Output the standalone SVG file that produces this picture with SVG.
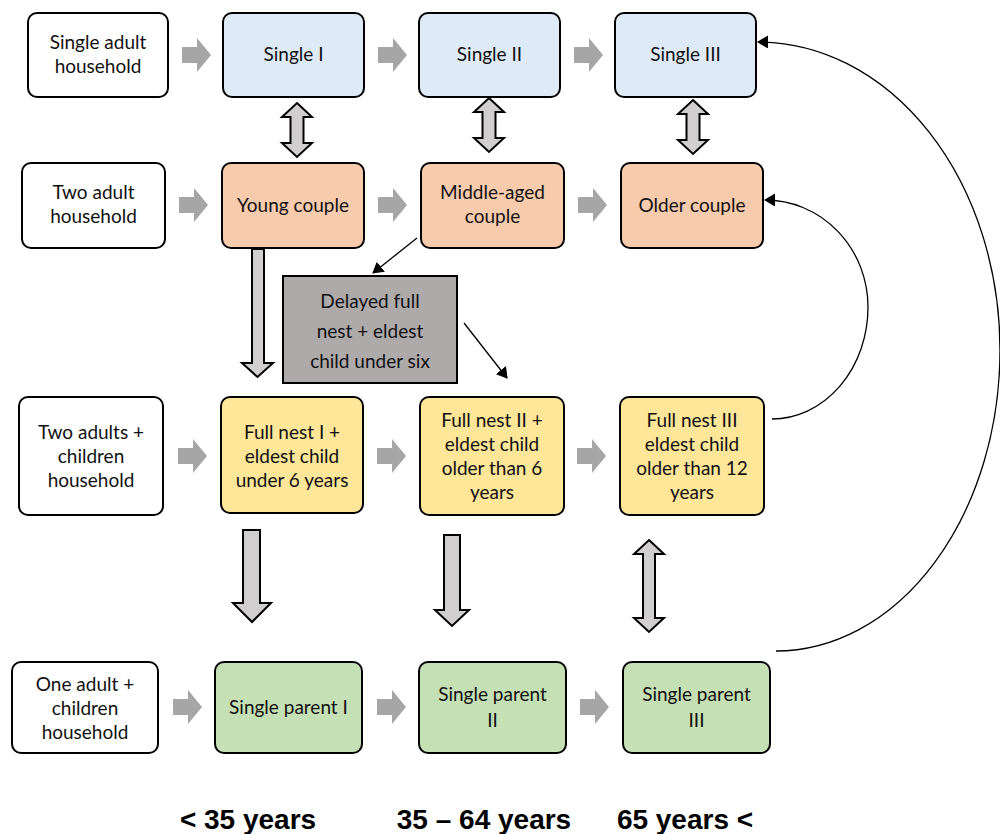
<svg xmlns="http://www.w3.org/2000/svg" xmlns:xlink="http://www.w3.org/1999/xlink" width="1000" height="834" viewBox="0 0 1000 834">
  <style>
    .box { stroke: #000; stroke-width: 2; }
    .plain { fill: #FFFFFF; }
    .single { fill: #DEEBF7; }
    .couple { fill: #F8CBAD; }
    .nest { fill: #FFE699; }
    .parent { fill: #C5E0B4; }
    .delayed { fill: #AEAAAA; }
    .lbl { font-family: Lato, "Open Sans", sans-serif; font-size: 19px; fill: #111; text-anchor: middle; }
    .age { font-family: "Liberation Sans", Arial, sans-serif; font-size: 28px; font-weight: bold; fill: #000; text-anchor: middle; }
    .step { fill: #A6A6A6; }
    .block { fill: #D0CECE; stroke: #000; stroke-width: 2; stroke-linejoin: miter; }
    .thin { fill: none; stroke: #000; stroke-width: 1.3; marker-end: url(#tip); }
  </style>
  <defs>
    <!-- grey chevron-style step arrow, tip at x=29 -->
    <path id="step" d="M0,-8 H15 V-17 L29,0 L15,17 V8 H0 Z"/>
    <marker id="tip" viewBox="0 0 11 13" refX="10" refY="6.5" markerWidth="11" markerHeight="13" markerUnits="userSpaceOnUse" orient="auto">
      <path d="M0,0 L11,6.5 L0,13 Z" fill="#000"/>
    </marker>
  </defs>

  <!-- row 1: single adult household -->
  <g id="n-single-adult"><rect class="box plain" x="28" y="13" width="140" height="84" rx="9"/>
    <text class="lbl" x="98" y="49">Single adult</text><text class="lbl" x="98" y="73">household</text></g>
  <g id="n-single-1"><rect class="box single" x="223" y="13" width="141" height="84" rx="9"/>
    <text class="lbl" x="293.5" y="61">Single I</text></g>
  <g id="n-single-2"><rect class="box single" x="419" y="13" width="141" height="84" rx="9"/>
    <text class="lbl" x="489.5" y="61">Single II</text></g>
  <g id="n-single-3"><rect class="box single" x="615" y="13" width="141" height="84" rx="9"/>
    <text class="lbl" x="685.5" y="61">Single III</text></g>

  <!-- row 2: two adult household -->
  <g id="n-two-adult"><rect class="box plain" x="22" y="163" width="143" height="85" rx="9"/>
    <text class="lbl" x="93.5" y="199">Two adult</text><text class="lbl" x="93.5" y="223">household</text></g>
  <g id="n-young-couple"><rect class="box couple" x="222" y="163" width="142" height="85" rx="9"/>
    <text class="lbl" x="293" y="212">Young couple</text></g>
  <g id="n-middle-couple"><rect class="box couple" x="421" y="163" width="143" height="85" rx="9"/>
    <text class="lbl" x="492.5" y="199">Middle-aged</text><text class="lbl" x="492.5" y="223">couple</text></g>
  <g id="n-older-couple"><rect class="box couple" x="621" y="163" width="142" height="85" rx="9"/>
    <text class="lbl" x="692" y="212">Older couple</text></g>

  <!-- delayed full nest -->
  <g id="n-delayed"><rect class="box delayed" x="283" y="276" width="174" height="107"/>
    <text class="lbl" x="370" y="308">Delayed full</text><text class="lbl" x="370" y="338">nest + eldest</text><text class="lbl" x="370" y="368">child under six</text></g>

  <!-- row 3: two adults + children household -->
  <g id="n-two-children"><rect class="box plain" x="19" y="397" width="144" height="118" rx="9"/>
    <text class="lbl" x="91" y="439">Two adults +</text><text class="lbl" x="91" y="463">children</text><text class="lbl" x="91" y="487">household</text></g>
  <g id="n-full-nest-1"><rect class="box nest" x="221" y="397" width="142" height="116" rx="9"/>
    <text class="lbl" x="292" y="439">Full nest I +</text><text class="lbl" x="292" y="463">eldest child</text><text class="lbl" x="292" y="487">under 6 years</text></g>
  <g id="n-full-nest-2"><rect class="box nest" x="420" y="397" width="144" height="118" rx="9"/>
    <text class="lbl" x="492" y="427">Full nest II +</text><text class="lbl" x="492" y="451">eldest child</text><text class="lbl" x="492" y="475">older than 6</text><text class="lbl" x="492" y="499">years</text></g>
  <g id="n-full-nest-3"><rect class="box nest" x="620" y="397" width="144" height="118" rx="9"/>
    <text class="lbl" x="692" y="427">Full nest III</text><text class="lbl" x="692" y="451">eldest child</text><text class="lbl" x="692" y="475">older than 12</text><text class="lbl" x="692" y="499">years</text></g>

  <!-- row 4: one adult + children household -->
  <g id="n-one-adult"><rect class="box plain" x="12" y="662" width="146" height="91" rx="9"/>
    <text class="lbl" x="85" y="691">One adult +</text><text class="lbl" x="85" y="715">children</text><text class="lbl" x="85" y="739">household</text></g>
  <g id="n-single-parent-1"><rect class="box parent" x="215" y="662" width="147" height="91" rx="9"/>
    <text class="lbl" x="288.5" y="714">Single parent I</text></g>
  <g id="n-single-parent-2"><rect class="box parent" x="419" y="662" width="147" height="91" rx="9"/>
    <text class="lbl" x="492.5" y="701">Single parent</text><text class="lbl" x="492.5" y="727">II</text></g>
  <g id="n-single-parent-3"><rect class="box parent" x="623" y="662" width="147" height="91" rx="9"/>
    <text class="lbl" x="696.5" y="701">Single parent</text><text class="lbl" x="696.5" y="727">III</text></g>

  <!-- age bands -->
  <g id="age-bands">
    <text class="age" x="248" y="829">&lt; 35 years</text>
    <text class="age" x="484" y="829">35 – 64 years</text>
    <text class="age" x="685" y="829">65 years &lt;</text>
  </g>

  <g id="connectors">
    <!-- step arrows along each row -->
    <use xlink:href="#step" href="#step" class="step" x="182" y="55"/>
    <use xlink:href="#step" href="#step" class="step" x="378" y="55"/>
    <use xlink:href="#step" href="#step" class="step" x="574" y="55"/>
    <use xlink:href="#step" href="#step" class="step" x="179" y="205"/>
    <use xlink:href="#step" href="#step" class="step" x="378" y="205"/>
    <use xlink:href="#step" href="#step" class="step" x="578" y="205"/>
    <use xlink:href="#step" href="#step" class="step" x="178" y="456"/>
    <use xlink:href="#step" href="#step" class="step" x="377" y="456"/>
    <use xlink:href="#step" href="#step" class="step" x="577" y="456"/>
    <use xlink:href="#step" href="#step" class="step" x="173" y="707"/>
    <use xlink:href="#step" href="#step" class="step" x="377" y="707"/>
    <use xlink:href="#step" href="#step" class="step" x="580" y="707"/>

    <!-- two-way block arrows between singles and couples -->
    <path class="block" d="M297,103 L312,117 H303.5 V143 H312 L297,157 L282,143 H290.5 V117 H282 Z"/>
    <path class="block" d="M489,98 L504,112 H495.5 V138 H504 L489,152 L474,138 H482.5 V112 H474 Z"/>
    <path class="block" d="M693,100 L708,114 H699.5 V140 H708 L693,154 L678,140 H686.5 V114 H678 Z"/>
    <!-- two-way block arrow full nest III / single parent III -->
    <path class="block" d="M649,540 L664,554 H655 V618 H664 L649,632 L634,618 H643 V554 H634 Z"/>

    <!-- one-way block arrows downwards -->
    <path class="block" d="M252,249 H264 V363 H273 L257.5,377 L242,363 H252 Z"/>
    <path class="block" d="M243,530 H260 V603 H271 L252,622 L233,603 H243 Z"/>
    <path class="block" d="M444,535 H460 V610 H469 L452,626 L435,610 H444 Z"/>

    <!-- thin arrows via the delayed full nest -->
    <line class="thin" x1="417" y1="238" x2="373" y2="273"/>
    <line class="thin" x1="464" y1="323" x2="507" y2="378"/>

    <!-- return curves -->
    <path class="thin" d="M772,419 A96,112 0 0 0 868,307 A103,107 0 0 0 765,200"/>
    <path class="thin" d="M776,651 A224,301 0 0 0 1000,350 A242,308 0 0 0 758,42"/>
  </g>
</svg>
